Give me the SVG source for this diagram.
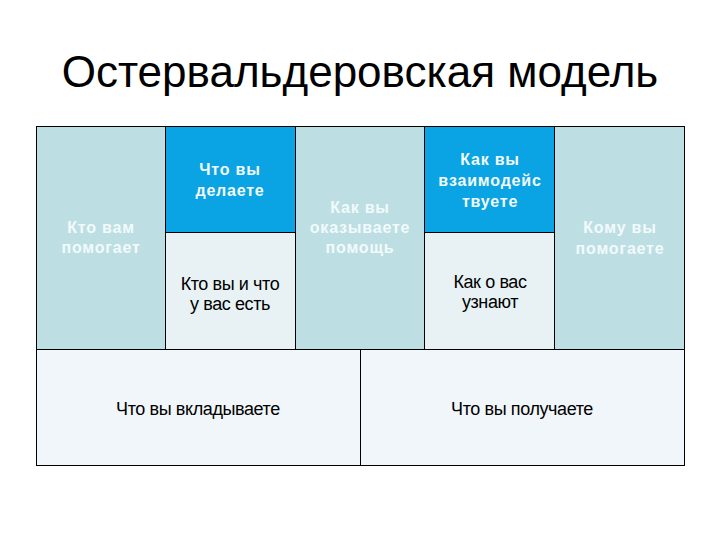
<svg xmlns="http://www.w3.org/2000/svg" width="720" height="540" viewBox="0 0 720 540">
<style>
.cell{stroke:#000;stroke-width:1}
.teal{fill:#BDDFE3}
.blue{fill:#0AA3E3}
.light{fill:#E8F2F4}
.pale{fill:#F1F6FA}
.w{font-family:"Liberation Sans",Arial,sans-serif;font-size:16px;font-weight:bold;letter-spacing:0.8px;fill:#F2FAFC;text-anchor:middle}
.b{font-family:"Liberation Sans",Arial,sans-serif;font-size:18px;letter-spacing:-0.4px;fill:#000;text-anchor:middle}
</style>
<rect width="720" height="540" fill="#fff"/>
<text x="360" y="87" font-family="Liberation Sans,Arial,sans-serif" font-size="44" text-anchor="middle" fill="#000">Остервальдеровская модель</text>
<g id="partners"><rect class="cell teal" x="36.5" y="126.5" width="129" height="223"/><text class="w"><tspan x="101" y="233">Кто вам</tspan><tspan x="101" y="253">помогает</tspan></text></g>
<g id="activities"><rect class="cell blue" x="165.5" y="126.5" width="130" height="106"/><text class="w"><tspan x="230" y="175">Что вы</tspan><tspan x="230" y="196">делаете</tspan></text></g>
<g id="resources"><rect class="cell light" x="165.5" y="232.5" width="130" height="117"/><text class="b"><tspan x="230" y="290">Кто вы и что</tspan><tspan x="230" y="310">у вас есть</tspan></text></g>
<g id="value"><rect class="cell teal" x="295.5" y="126.5" width="129" height="223"/><text class="w"><tspan x="360" y="213">Как вы</tspan><tspan x="360" y="233">оказываете</tspan><tspan x="360" y="253">помощь</tspan></text></g>
<g id="relations"><rect class="cell blue" x="424.5" y="126.5" width="130" height="106"/><text class="w"><tspan x="490" y="165">Как вы</tspan><tspan x="490" y="186">взаимодейс</tspan><tspan x="490" y="207">твуете</tspan></text></g>
<g id="channels"><rect class="cell light" x="424.5" y="232.5" width="130" height="117"/><text class="b"><tspan x="490" y="288">Как о вас</tspan><tspan x="490" y="308">узнают</tspan></text></g>
<g id="customers"><rect class="cell teal" x="554.5" y="126.5" width="130" height="223"/><text class="w"><tspan x="620" y="233">Кому вы</tspan><tspan x="620" y="254">помогаете</tspan></text></g>
<g id="costs"><rect class="cell pale" x="36.5" y="349.5" width="324" height="116"/><text class="b" x="198" y="415">Что вы вкладываете</text></g>
<g id="revenue"><rect class="cell pale" x="360.5" y="349.5" width="324" height="116"/><text class="b" x="522" y="415">Что вы получаете</text></g>
<g id="connectors"></g>
</svg>
